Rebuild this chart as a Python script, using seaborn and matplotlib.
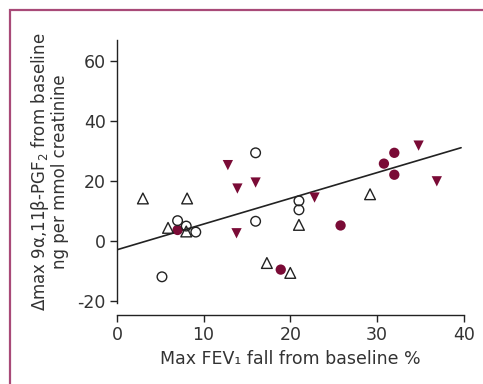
import matplotlib
matplotlib.use("Agg")
import matplotlib.pyplot as plt
import seaborn as sns
import pandas as pd
from matplotlib.patches import Rectangle

# Data
open_circle_x = [16.0, 21.0, 21.0, 16.0, 7.0, 8.0, 9.1, 5.2]
open_circle_y = [29.4, 13.4, 10.4, 6.6, 6.8, 5.0, 3.0, -11.9]
open_tri_x = [3.0, 8.1, 5.9, 8.0, 17.3, 20.0, 21.0, 29.2]
open_tri_y = [14.2, 14.2, 4.4, 3.2, -7.3, -10.6, 5.4, 15.6]
filled_circle_x = [7.0, 18.9, 25.8, 30.8, 32.0, 32.0]
filled_circle_y = [3.7, -9.5, 5.2, 25.8, 29.4, 22.1]
filled_tri_x = [12.8, 13.9, 16.0, 13.8, 22.8, 34.8, 36.9]
filled_tri_y = [25.3, 17.5, 19.5, 2.6, 14.5, 31.8, 19.9]
fit_x = [0.0, 39.7]
fit_y = [-2.9, 31.1]

x_ticks = [0, 10, 20, 30, 40]
y_ticks = [-20, 0, 20, 40, 60]

sns.set_theme(style="ticks")
plt.rcParams["font.family"] = ["DejaVu Sans"]

RED = "#7a0b36"
fig = plt.figure(figsize=(4.83, 3.84), dpi=100)
fig.patch.set_facecolor("white")
fig.patches.append(Rectangle((9.5 / 483, -0.05), 1.2, 1 - 10.5 / 384 + 0.05,
                             transform=fig.transFigure, fill=False,
                             edgecolor="#a84a78", linewidth=1.6, zorder=0))

ax = fig.add_axes([0.242, 0.208, 0.718, 0.688])

sns.lineplot(x=fit_x, y=fit_y, ax=ax, color="#222222", linewidth=1.2, zorder=1)

sns.scatterplot(x=open_circle_x, y=open_circle_y, ax=ax, marker="o", s=48,
                facecolors="none", edgecolor="#222222", linewidth=1.0, zorder=3)
sns.scatterplot(x=open_tri_x, y=open_tri_y, ax=ax, marker="^", s=60,
                facecolors="none", edgecolor="#222222", linewidth=1.0, zorder=3)
sns.scatterplot(x=filled_circle_x, y=filled_circle_y, ax=ax, marker="o", s=55,
                color=RED, edgecolor="none", zorder=2)
sns.scatterplot(x=filled_tri_x, y=filled_tri_y, ax=ax, marker="v", s=55,
                color=RED, edgecolor="none", zorder=2)

ax.set_xlim(0, 40)
ax.set_ylim(-21, 67)
ax.set_xticks(x_ticks)
ax.set_yticks(y_ticks)
ax.set_yticklabels([str(v) for v in y_ticks])
ax.spines["right"].set_visible(False)
ax.spines["top"].set_visible(False)
ax.spines["bottom"].set_position(("outward", 8))
ax.spines["bottom"].set_bounds(0, 40)
ax.spines["left"].set_bounds(-20.5, 67)
for s in ("left", "bottom"):
    ax.spines[s].set_linewidth(1.0)
    ax.spines[s].set_color("#222222")
ax.tick_params(direction="out", length=5, width=1.0, color="#222222",
               labelsize=12.5, labelcolor="#333333", pad=3)

ax.set_xlabel("Max FEV\u2081 fall from baseline %", fontsize=12.5, color="#333333", labelpad=4)
ax.set_ylabel("\u0394max 9\u03b1,11\u03b2-PGF$_2$ from baseline\nng per mmol creatinine",
              fontsize=12, color="#333333", labelpad=6, linespacing=1.0)
ax.set_facecolor("white")

fig.savefig("out.png", dpi=100, facecolor="white")
